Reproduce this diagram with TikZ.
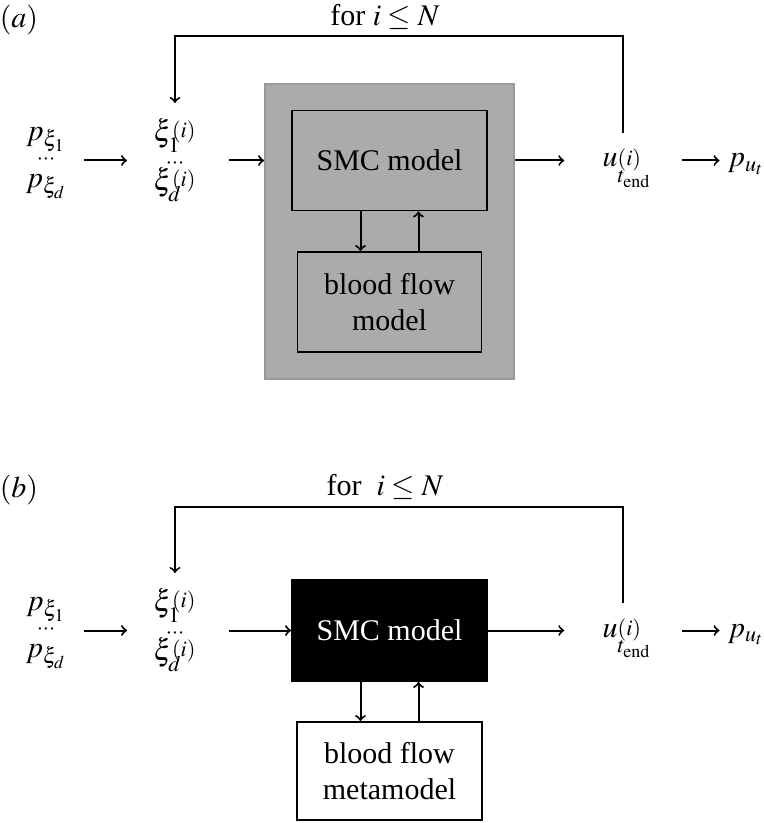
\documentclass[tikz,border=0pt]{standalone}
\usepackage{mathptmx}
\usepackage{fontspec}
\setmainfont{Liberation Serif}
\usetikzlibrary{positioning,calc}
\definecolor{boxgray}{HTML}{ABABAB}
\definecolor{edgegray}{HTML}{999999}
\tikzset{%
	model/.style   = {draw, rectangle, line width=0.9pt, minimum width=97.5pt, minimum height=50pt, text centered},
	flowbox/.style = {draw, rectangle, line width=0.9pt, minimum width=92pt, minimum height=50pt, align=center},
	outer/.style   = {draw=edgegray, fill=boxgray, line width=0.9pt, minimum width=124.5pt, minimum height=147.5pt},
	arrow/.style   = {line width=1pt, ->},
	stack/.style   = {anchor=north, inner sep=0pt},
	mathlab/.style = {anchor=base, inner sep=0pt},
}
% one line of a stack: fixed height and depth
\newcommand{\strow}[2]{\smash{#1}\rule[-3pt]{0pt}{#2}}
\newcommand{\threestack}[5]{\vbox{\offinterlineskip\halign{\hfil##\hfil\cr#1\cr\noalign{\kern#4}#2\cr\noalign{\kern#5}#3\cr}}}
\newcommand{\supi}[1]{\smash{\raisebox{#1}{$\scriptstyle(i)$}}}
\newcommand{\subl}[1]{\smash{\raisebox{-2pt}{$\scriptstyle #1$}}}
\newcommand{\pstack}{\threestack{\strow{$p_{\xi_1}$}{11pt}}{\strow{$\scriptstyle\cdots$}{11pt}}{\strow{$p_{\xi_d}$}{11pt}}{1pt}{0.5pt}}
\newcommand{\xistack}{\threestack{\strow{$\xi^{\supi{-3.5pt}}_{\subl{1}}$}{14pt}}{\strow{$\scriptstyle\cdots$}{14pt}}{\strow{$\xi^{\supi{-3.5pt}}_{\subl{d}}$}{14pt}}{-0.5pt}{-3pt}}
\newcommand{\uend}{$u^{\supi{-4.5pt}}_{\smash{\raisebox{-4pt}{$\scriptstyle t_{\mathrm{end}}$}}}$}
\begin{document}
\begin{tikzpicture}[x=0.5pt,y=-0.5pt,every node/.style={font=\fontsize{15}{18}\selectfont}]
	\useasboundingbox (0,0) rectangle (764,823);
	% (a) full model
	\node (laba) at (19,20) {$(a)$};
	\node (fora) at (385,17) {for $i\leq N$};
	\coordinate (topa) at (0,36);
	\node[outer] (boxa) at (389.5,231.5) {};
	\node[model] (smca) at (389.5,160.5) {SMC model};
	\node[flowbox] (flowa) at (389.5,302) {blood flow\\model};
	\node[stack] (pxa) at (46,124) {\pstack};
	\node[stack] (xia) at (175,119) {\xistack};
	\node[mathlab] (ua) at (627,167) {\uend};
	\node[mathlab] (pua) at (746,167) {$p_{u_t}$};
	\draw[arrow, shorten <=9pt, shorten >=13pt] (pxa.east |- smca) -- (xia.west |- smca);
	\draw[arrow, shorten <=16pt] (xia.east |- smca) -- (boxa.west |- smca);
	\draw[arrow, shorten >=19pt] (boxa.east |- smca) -- (ua.west |- smca);
	\draw[arrow, shorten <=15pt, shorten >=4pt] (ua.east |- smca) -- (pua.west |- smca);
	\draw[arrow] ([xshift=-14.5pt]smca.south) -- ([xshift=-14.5pt]flowa.north);
	\draw[arrow] ([xshift=14.5pt]flowa.north) -- ([xshift=14.5pt]smca.south);
	\draw[arrow, shorten >=8pt] ([xshift=-2pt,yshift=10.5pt]ua.north) |- (xia |- topa) -- (xia.north);
	% (b) with metamodel
	\begin{scope}[shift={(0,470)}]
		\node (labb) at (19,20) {$(b)$};
		\node (forb) at (385,17) {for~ $i\leq N$};
		\coordinate (topb) at (0,37);
		\node[model, fill=black, text=white, minimum height=50.5pt] (smcb) at (389.5,160.5) {SMC model};
		\node[flowbox, minimum width=92.5pt, minimum height=49pt] (flowb) at (389.5,301) {blood flow\\metamodel};
		\node[stack] (pxb) at (46,124) {\pstack};
		\node[stack] (xib) at (175,119) {\xistack};
		\node[mathlab] (ub) at (627,167) {\uend};
		\node[mathlab] (pub) at (746,167) {$p_{u_t}$};
		\draw[arrow, shorten <=9pt, shorten >=13pt] (pxb.east |- smcb) -- (xib.west |- smcb);
		\draw[arrow, shorten <=16pt] (xib.east |- smcb) -- (smcb.west);
		\draw[arrow, shorten >=19pt] (smcb.east) -- (ub.west |- smcb);
		\draw[arrow, shorten <=15pt, shorten >=4pt] (ub.east |- smcb) -- (pub.west |- smcb);
		\draw[arrow] ([xshift=-14.5pt]smcb.south) -- ([xshift=-14.5pt]flowb.north);
		\draw[arrow] ([xshift=14.5pt]flowb.north) -- ([xshift=14.5pt]smcb.south);
		\draw[arrow, shorten >=8pt] ([xshift=-2pt,yshift=10.5pt]ub.north) |- (xib |- topb) -- (xib.north);
	\end{scope}
\end{tikzpicture}
\end{document}
